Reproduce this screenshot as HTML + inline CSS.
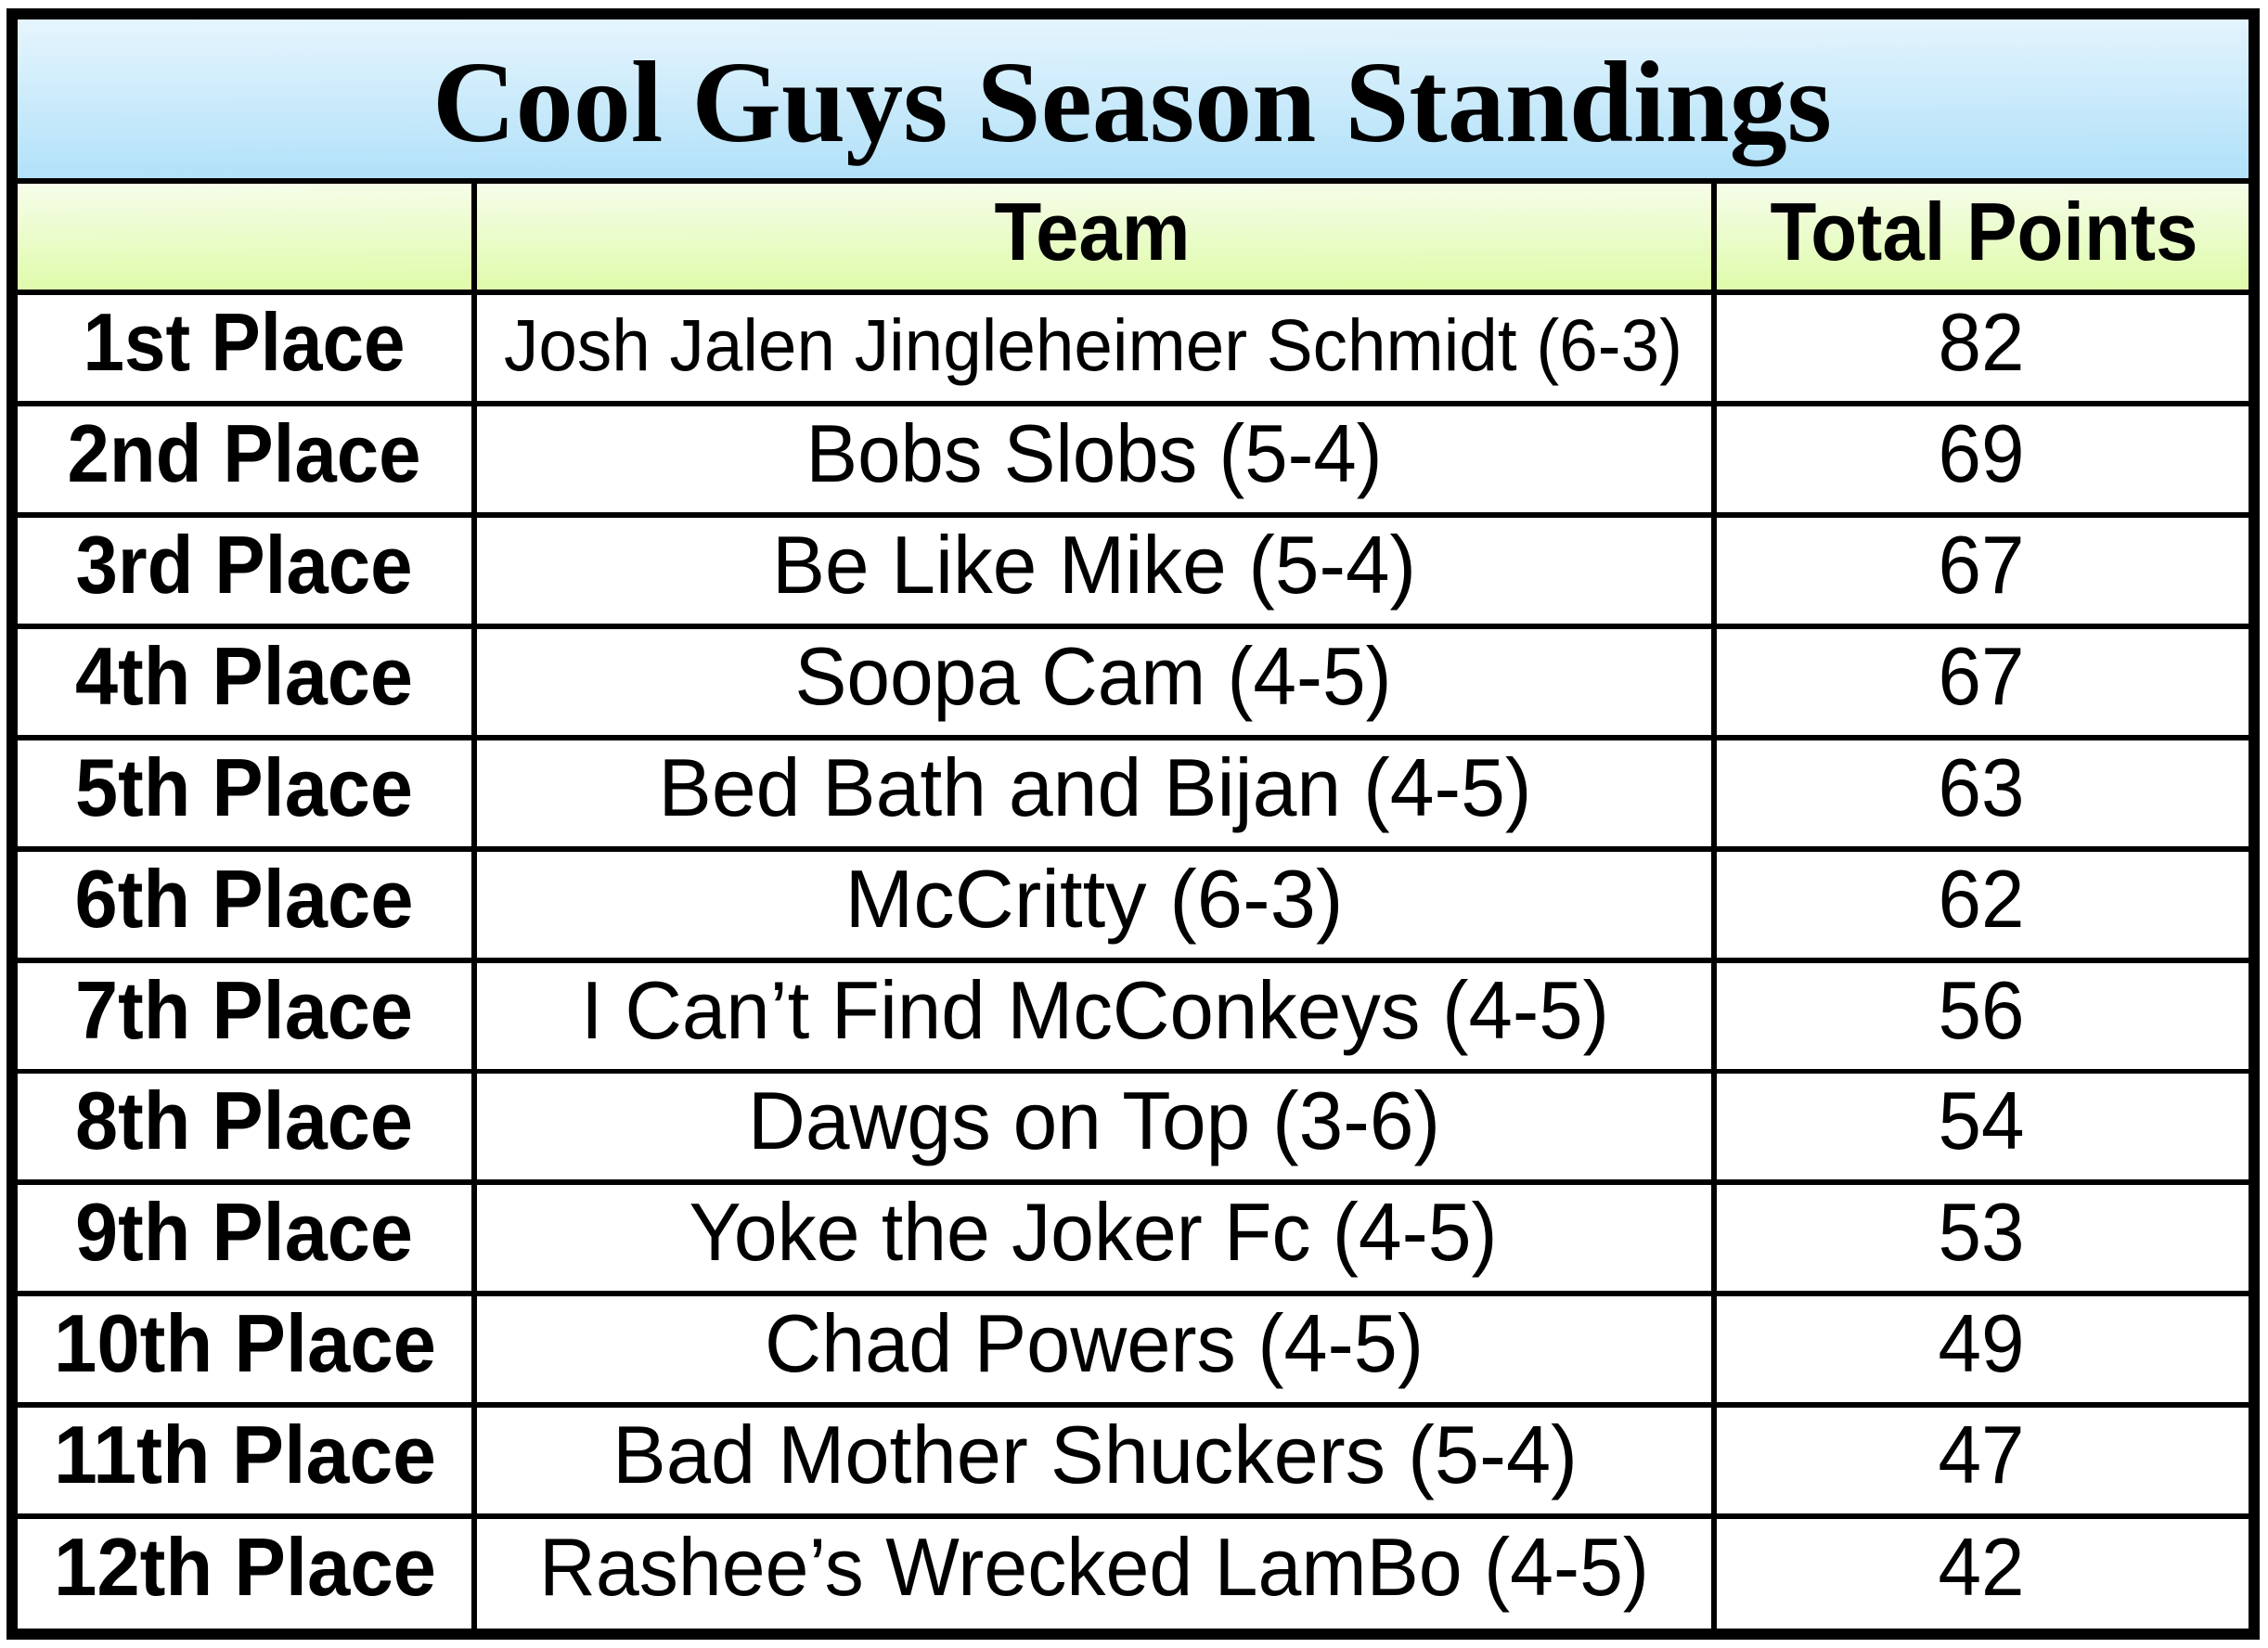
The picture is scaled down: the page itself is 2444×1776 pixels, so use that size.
<!DOCTYPE html>
<html>
<head>
<meta charset="utf-8">
<style>
html,body{margin:0;padding:0;background:#ffffff;}
svg{display:block;}
.t{font-family:"Liberation Serif",serif;font-weight:bold;}
.b{font-family:"Liberation Sans",sans-serif;font-weight:bold;}
.r{font-family:"Liberation Sans",sans-serif;font-weight:normal;}
</style>
</head>
<body>
<svg width="2444" height="1776" viewBox="0 0 2444 1776" xmlns="http://www.w3.org/2000/svg">
<defs>
<linearGradient id="blue" x1="0" y1="0" x2="0.05" y2="1">
<stop offset="0" stop-color="#e6f5fd"/>
<stop offset="1" stop-color="#b2e1f9"/>
</linearGradient>
<linearGradient id="green" x1="0" y1="0" x2="0.03" y2="1">
<stop offset="0" stop-color="#f6fdea"/>
<stop offset="1" stop-color="#dffbab"/>
</linearGradient>
</defs>
<rect x="0" y="0" width="2444" height="1776" fill="#ffffff"/>
<rect x="7" y="9" width="2428" height="1758" fill="#000000"/>
<!-- title band -->
<rect x="19" y="21" width="2404" height="171" fill="url(#blue)"/>
<!-- header row -->
<rect x="19" y="198" width="489" height="114" fill="url(#green)"/>
<rect x="514" y="198" width="1330" height="114" fill="url(#green)"/>
<rect x="1850" y="198" width="573" height="114" fill="url(#green)"/>
<!-- data rows -->
<g fill="#ffffff">
<rect x="19" y="318" width="489" height="114"/><rect x="514" y="318" width="1330" height="114"/><rect x="1850" y="318" width="573" height="114"/>
<rect x="19" y="438" width="489" height="114"/><rect x="514" y="438" width="1330" height="114"/><rect x="1850" y="438" width="573" height="114"/>
<rect x="19" y="558" width="489" height="114"/><rect x="514" y="558" width="1330" height="114"/><rect x="1850" y="558" width="573" height="114"/>
<rect x="19" y="678" width="489" height="114"/><rect x="514" y="678" width="1330" height="114"/><rect x="1850" y="678" width="573" height="114"/>
<rect x="19" y="798" width="489" height="114"/><rect x="514" y="798" width="1330" height="114"/><rect x="1850" y="798" width="573" height="114"/>
<rect x="19" y="918" width="489" height="114"/><rect x="514" y="918" width="1330" height="114"/><rect x="1850" y="918" width="573" height="114"/>
<rect x="19" y="1038" width="489" height="114"/><rect x="514" y="1038" width="1330" height="114"/><rect x="1850" y="1038" width="573" height="114"/>
<rect x="19" y="1157" width="489" height="114"/><rect x="514" y="1157" width="1330" height="114"/><rect x="1850" y="1157" width="573" height="114"/>
<rect x="19" y="1277" width="489" height="114"/><rect x="514" y="1277" width="1330" height="114"/><rect x="1850" y="1277" width="573" height="114"/>
<rect x="19" y="1397" width="489" height="114"/><rect x="514" y="1397" width="1330" height="114"/><rect x="1850" y="1397" width="573" height="114"/>
<rect x="19" y="1517" width="489" height="114"/><rect x="514" y="1517" width="1330" height="114"/><rect x="1850" y="1517" width="573" height="114"/>
<rect x="19" y="1637" width="489" height="118"/><rect x="514" y="1637" width="1330" height="118"/><rect x="1850" y="1637" width="573" height="118"/>
</g>

<!-- title -->
<text class="t" x="1220" y="152" font-size="125" text-anchor="middle" textLength="1508" lengthAdjust="spacingAndGlyphs" fill="#000">Cool Guys Season Standings</text>

<!-- headers -->
<text class="b" x="1177" y="280" font-size="88" text-anchor="middle" textLength="211" lengthAdjust="spacingAndGlyphs" fill="#000">Team</text>
<text class="b" x="2138" y="280" font-size="88" text-anchor="middle" textLength="461" lengthAdjust="spacingAndGlyphs" fill="#000">Total Points</text>

<!-- column 1 -->
<g class="b" font-size="88" text-anchor="middle" fill="#000">
<text x="263" y="399" textLength="347" lengthAdjust="spacingAndGlyphs">1st Place</text>
<text x="263" y="519" textLength="381" lengthAdjust="spacingAndGlyphs">2nd Place</text>
<text x="263" y="639" textLength="363" lengthAdjust="spacingAndGlyphs">3rd Place</text>
<text x="263" y="759" textLength="364" lengthAdjust="spacingAndGlyphs">4th Place</text>
<text x="263" y="879" textLength="364" lengthAdjust="spacingAndGlyphs">5th Place</text>
<text x="263" y="999" textLength="365" lengthAdjust="spacingAndGlyphs">6th Place</text>
<text x="263" y="1119" textLength="364" lengthAdjust="spacingAndGlyphs">7th Place</text>
<text x="263" y="1238" textLength="364" lengthAdjust="spacingAndGlyphs">8th Place</text>
<text x="263" y="1358" textLength="364" lengthAdjust="spacingAndGlyphs">9th Place</text>
<text x="264" y="1478" textLength="412" lengthAdjust="spacingAndGlyphs">10th Place</text>
<text x="264" y="1598" textLength="412" lengthAdjust="spacingAndGlyphs">11th Place</text>
<text x="264" y="1719" textLength="412" lengthAdjust="spacingAndGlyphs">12th Place</text>
</g>

<!-- column 2 -->
<g class="r" font-size="88" text-anchor="middle" fill="#000">
<text x="1178" y="399" font-size="79" textLength="1270" lengthAdjust="spacingAndGlyphs">Josh Jalen Jingleheimer Schmidt (6-3)</text>
<text x="1179" y="519" textLength="621" lengthAdjust="spacingAndGlyphs">Bobs Slobs (5-4)</text>
<text x="1179" y="639" textLength="694" lengthAdjust="spacingAndGlyphs">Be Like Mike (5-4)</text>
<text x="1178" y="759" textLength="643" lengthAdjust="spacingAndGlyphs">Soopa Cam (4-5)</text>
<text x="1180" y="879" textLength="941" lengthAdjust="spacingAndGlyphs">Bed Bath and Bijan (4-5)</text>
<text x="1179" y="999" textLength="537" lengthAdjust="spacingAndGlyphs">McCritty (6-3)</text>
<text x="1180" y="1119" textLength="1108" lengthAdjust="spacingAndGlyphs">I Can’t Find McConkeys (4-5)</text>
<text x="1179" y="1238" textLength="746" lengthAdjust="spacingAndGlyphs">Dawgs on Top (3-6)</text>
<text x="1178" y="1358" textLength="871" lengthAdjust="spacingAndGlyphs">Yoke the Joker Fc (4-5)</text>
<text x="1179" y="1478" textLength="710" lengthAdjust="spacingAndGlyphs">Chad Powers (4-5)</text>
<text x="1180" y="1598" textLength="1040" lengthAdjust="spacingAndGlyphs">Bad Mother Shuckers (5-4)</text>
<text x="1179" y="1719" textLength="1196" lengthAdjust="spacingAndGlyphs">Rashee’s Wrecked LamBo (4-5)</text>
</g>

<!-- column 3 -->
<g class="r" font-size="88" text-anchor="middle" fill="#000">
<text x="2135" y="399" textLength="93" lengthAdjust="spacingAndGlyphs">82</text>
<text x="2135" y="519" textLength="93" lengthAdjust="spacingAndGlyphs">69</text>
<text x="2135" y="639" textLength="93" lengthAdjust="spacingAndGlyphs">67</text>
<text x="2135" y="759" textLength="93" lengthAdjust="spacingAndGlyphs">67</text>
<text x="2135" y="879" textLength="93" lengthAdjust="spacingAndGlyphs">63</text>
<text x="2135" y="999" textLength="93" lengthAdjust="spacingAndGlyphs">62</text>
<text x="2135" y="1119" textLength="93" lengthAdjust="spacingAndGlyphs">56</text>
<text x="2135" y="1238" textLength="93" lengthAdjust="spacingAndGlyphs">54</text>
<text x="2135" y="1358" textLength="93" lengthAdjust="spacingAndGlyphs">53</text>
<text x="2135" y="1478" textLength="93" lengthAdjust="spacingAndGlyphs">49</text>
<text x="2135" y="1598" textLength="93" lengthAdjust="spacingAndGlyphs">47</text>
<text x="2135" y="1719" textLength="93" lengthAdjust="spacingAndGlyphs">42</text>
</g>
</svg>
</body>
</html>
